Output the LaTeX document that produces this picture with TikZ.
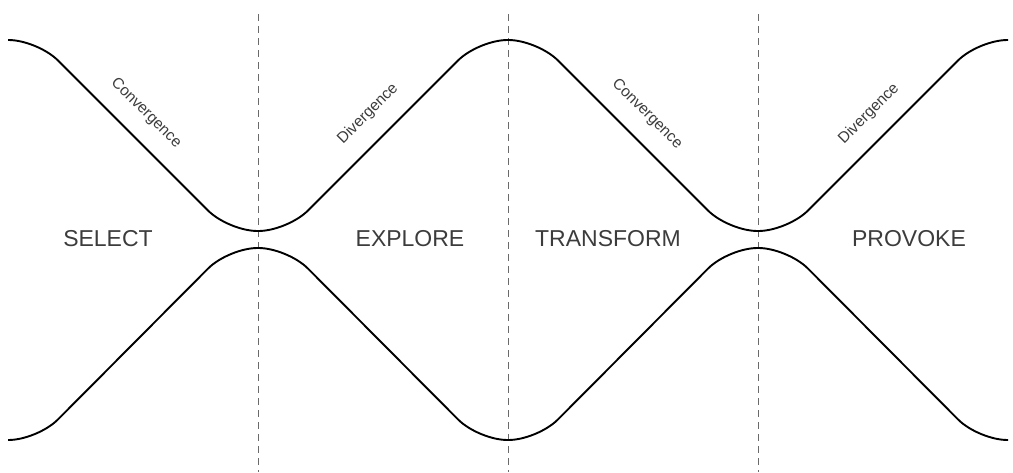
\documentclass[tikz,border=0pt]{standalone}
\usepackage{fontspec}
\setmainfont{Liberation Sans}
\usepackage{tikz}
\usepackage{xcolor}
\usetikzlibrary{positioning}

\definecolor{labelgray}{HTML}{3C3C3C}
\definecolor{dashgray}{HTML}{6A6A6A}

\begin{document}
\begin{tikzpicture}[
        x=1pt, y=-1pt,
        every node/.style={align=center, inner sep=0pt, text=labelgray},
        phaselabel/.style={font=\fontsize{23}{26}\selectfont},
        turnlabel/.style={font=\fontsize{15.5}{18}\selectfont},
        flowline/.style={draw=black, line width=1.9pt, rounded corners=29pt},
        divider/.style={draw=dashgray, line width=0.9pt, dash pattern=on 7pt off 5pt}
    ]
        \useasboundingbox (0,0) rectangle (1013,472);

        % phase borders
        \draw[divider] (258,14) -- (258,472);
        \draw[divider] (508,14) -- (508,472);
        \draw[divider] (758,14) -- (758,472);

        % upper and lower funnel lines
        \draw[flowline] (8,40) -- (37.5,40) -- (228.5,231) -- (287.5,231) -- (478.5,40)
            -- (537.5,40) -- (728.5,231) -- (787.5,231) -- (978.5,40) -- (1008,40);
        \draw[flowline] (8,440) -- (37.5,440) -- (228.5,248) -- (287.5,248) -- (478.5,440)
            -- (537.5,440) -- (728.5,248) -- (787.5,248) -- (978.5,440) -- (1008,440);

        \node[phaselabel] (select) at (108,239) {SELECT};
        \node[phaselabel] (explore) at (410,239) {EXPLORE};
        \node[phaselabel] (transform) at (608,239) {TRANSFORM};
        \node[phaselabel] (provoke) at (909,239) {PROVOKE};

        \node[turnlabel, rotate=-45] (conv1) at (146,113) {Convergence};
        \node[turnlabel, rotate=45] (div1) at (368,114) {Divergence};
        \node[turnlabel, rotate=-45] (conv2) at (647,114) {Convergence};
        \node[turnlabel, rotate=45] (div2) at (869,114) {Divergence};
    \end{tikzpicture}
\end{document}
